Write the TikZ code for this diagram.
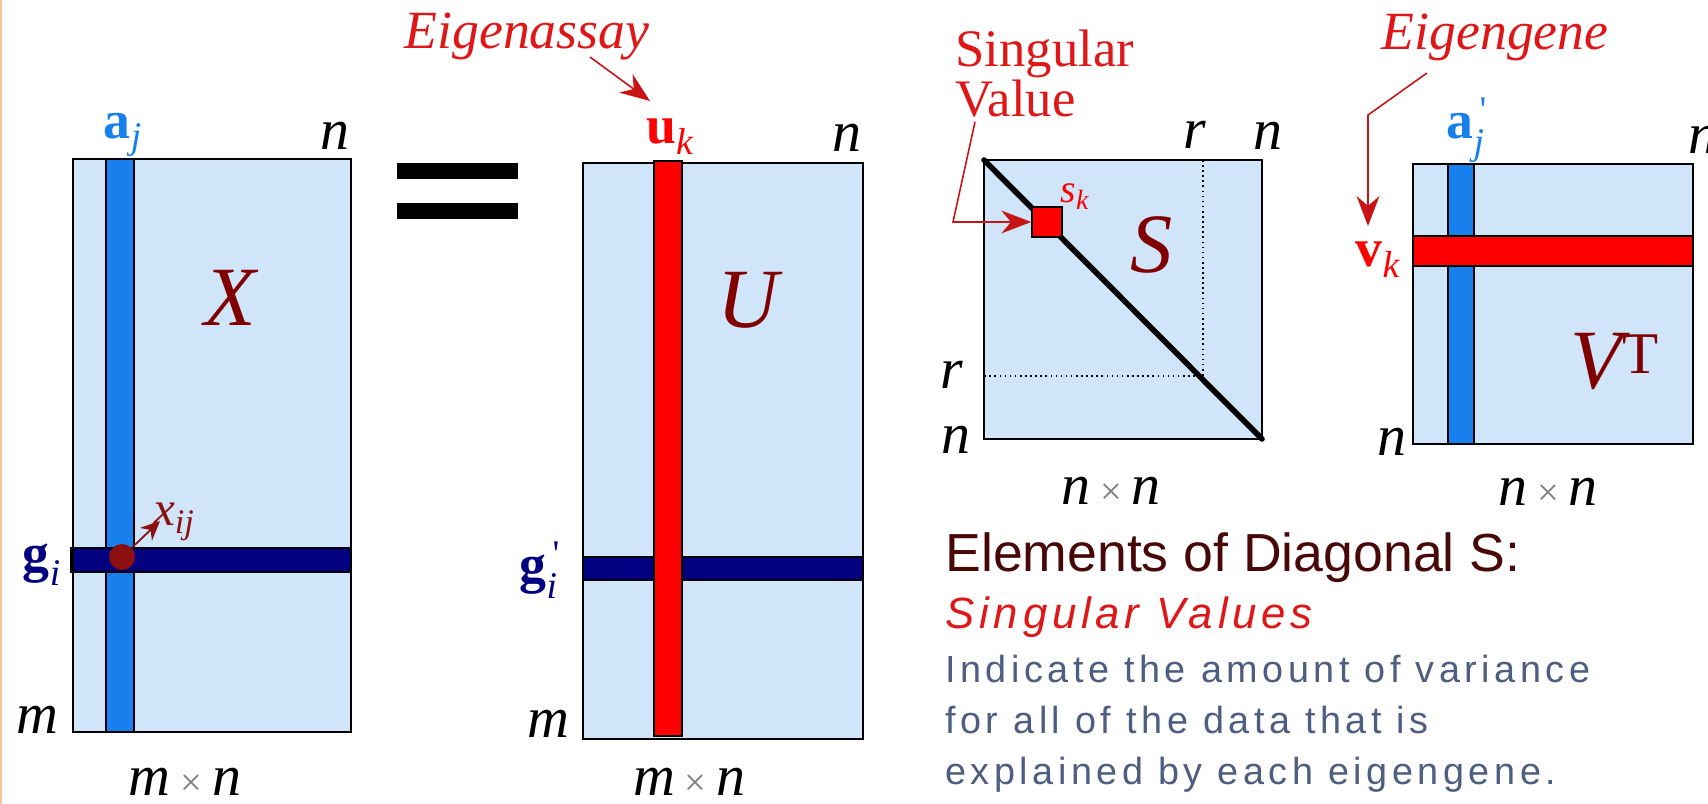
\documentclass[tikz,border=0pt]{standalone}
\usepackage{amsmath}
\usepackage{fontspec}
\setmainfont{Liberation Serif}
\setsansfont{Liberation Sans}
\newfontfamily\notefont[LetterSpace=12]{Liberation Sans}
\newfontfamily\subfont[LetterSpace=11]{Liberation Sans}
\usepackage{xcolor}
\usetikzlibrary{arrows.meta,positioning,calc}

\definecolor{matbg}{RGB}{208,228,250}
\definecolor{colblue}{RGB}{24,128,236}
\definecolor{rownavy}{RGB}{0,0,128}
\definecolor{lblmaroon}{RGB}{128,0,0}
\definecolor{dotmaroon}{RGB}{140,16,16}
\definecolor{notered}{RGB}{222,24,24}
\definecolor{leadred}{RGB}{200,20,20}
\definecolor{notegray}{RGB}{78,94,128}
\definecolor{titlebrown}{RGB}{72,8,8}
\definecolor{edgeorange}{RGB}{246,200,160}
\newcommand{\bytimes}{\,\textcolor{gray}{\fontsize{22}{22}\selectfont\upshape ×}\,}

\begin{document}
\begin{tikzpicture}[
    x=0.2mm, y=-0.2mm,
    matbox/.style={draw=black, line width=1.1pt, fill=matbg},
    colbar/.style={draw=black, line width=0.8pt, fill=#1},
    dimlbl/.style={inner sep=0pt, font=\fontsize{33}{35}\selectfont\itshape},
    biglbl/.style={inner sep=0pt, text=lblmaroon, font=\fontsize{48}{50}\selectfont\itshape},
    veclbl/.style={inner sep=0pt, text=#1, font=\fontsize{30.6}{32}\selectfont},
    notelbl/.style={inner sep=0pt, text=notered, font=\fontsize{30}{27}\selectfont},
    leader/.style={draw=leadred, line width=0.9pt, -{Stealth[length=17pt,width=13pt]}}
]
    \fill[white] (0,0) rectangle (1708,804);
    \useasboundingbox (0,0) rectangle (1708,804);
    \draw[edgeorange, line width=1.4pt] (1,0) -- (1,804);

    % X
    \draw[matbox] (73,159) rectangle (351,732);
    \draw[colbar=colblue] (106,159) rectangle (134,732);
    \draw[colbar=rownavy] (71,548) rectangle (351,572);
    \draw[line width=1.1pt] (73,159) rectangle (351,732);
    \node[circle, fill=dotmaroon, inner sep=0pt, minimum size=5.2mm] (xdot) at (122,557) {};
    \coordinate (xtip) at (160,521);
    \draw[-{Stealth[length=11pt,width=10pt]}, dotmaroon, line width=1pt] (xdot) -- (xtip);
    \node[inner sep=0pt, text=dotmaroon, font=\fontsize{28}{30}\selectfont] (xij) at (174,522) {$\textit{x}_{\textit{ij}}$};
    \node[veclbl=colblue] (aj) at (123,135) {$\textbf{a}_{\textit{j}}$};
    \node[dimlbl] (nX) at (335,136) {n};
    \node[veclbl=rownavy] (gi) at (42,565) {$\textbf{g}_{\textit{i}}$};
    \node[dimlbl] (mX) at (37,720) {m};
    \node[biglbl] (X) at (230,298) {X};
    \node[dimlbl] (mnX) at (185,782) {m\bytimes n};

    % equals
    \fill (397,163) rectangle (518,179);
    \fill (397,203) rectangle (518,219);

    % U
    \draw[matbox] (583,163) rectangle (863,739);
    \draw[colbar=rownavy] (583,557) rectangle (863,580);
    \draw[line width=1.1pt] (583,163) rectangle (863,739);
    \draw[colbar=red] (654,161) rectangle (682,736);
    \node[veclbl=red] (uk) at (670,137) {$\textbf{u}_{\textit{k}}$};
    \node[dimlbl] (nU) at (847,138) {n};
    \node[veclbl=rownavy] (gpi) at (540,570) {$\textbf{g}^{\,\textup{\textquotesingle}}_{\textit{i}}$};
    \node[dimlbl] (mU) at (548,724) {m};
    \node[biglbl] (U) at (748,300) {U};
    \node[dimlbl] (mnU) at (689,782) {m\bytimes n};
    \node[notelbl, font=\fontsize{30.6}{32}\selectfont\itshape] (assay) at (527,37) {Eigenassay};
    \coordinate (assaytail) at (590,57);
    \coordinate (assayhead) at (650,101);
    \draw[leader] (assaytail) -- (assayhead);

    % S
    \draw[matbox] (984,160) rectangle (1262,439);
    \draw[dotted, line width=0.9pt] (1203,160) -- (1203,376) -- (984,376);
    \draw[line width=3.2pt, line cap=round] (984,160) -- (1262,439);
    \draw[line width=1.1pt] (984,160) rectangle (1262,439);
    \node[draw=black, fill=red, line width=0.9pt, minimum size=6mm, inner sep=0pt] (sk) at (1047,222) {};
    \node[inner sep=0pt, text=red, font=\fontsize{22.7}{24}\selectfont] (sklbl) at (1075,197) {$\textit{s}_{\textit{k}}$};
    \node[biglbl] (S) at (1152,245) {S};
    \node[dimlbl] (rS) at (1195,135) {r};
    \node[dimlbl] (nS) at (1268,136) {n};
    \node[dimlbl] (rSl) at (952,375) {r};
    \node[dimlbl] (nSl) at (956,440) {n};
    \node[dimlbl] (nnS) at (1111,491) {n\bytimes n};
    \node[notelbl, align=left, anchor=north west] (sval) at (955,30) {Singular\\Value};
    \coordinate (svbend) at (953,222);
    \draw[leader] ($(sval.south west)+(20,4)$) -- (svbend) -- (sk.west);

    % V^T
    \draw[matbox] (1413,164) rectangle (1693,444);
    \draw[colbar=colblue] (1448,164) rectangle (1474,444);
    \draw[colbar=red] (1413,236) rectangle (1693,266);
    \draw[line width=1.1pt] (1413,164) rectangle (1693,444);
    \node[veclbl=colblue] (apj) at (1467,130) {$\textbf{a}^{\,\textup{\textquotesingle}}_{\textit{j}}$};
    \node[dimlbl] (nV) at (1703,140) {n};
    \node[veclbl=red] (vk) at (1378,260) {$\textbf{v}_{\textit{k}}$};
    \node[dimlbl] (nVl) at (1392,442) {n};
    \node[biglbl] (VT) at (1615,362) {V\textsuperscript{\textup{T}}};
    \node[dimlbl] (nnV) at (1548,492) {n\bytimes n};
    \node[notelbl, font=\fontsize{30.6}{32}\selectfont\itshape] (gene) at (1495,37) {Eigengene};
    \coordinate (genetail) at (1427,73);
    \coordinate (genebend) at (1368,115);
    \coordinate (genehead) at (1368,226);
    \draw[leader] (genetail) -- (genebend) -- (genehead);

    % notes
    \node[anchor=base west, inner sep=0pt, text=titlebrown, font=\fontsize{30.5}{32}\sffamily] (elem) at (945,571) {Elements of Diagonal S:};
    \node[anchor=base west, inner sep=0pt, text=notered, font=\fontsize{24.9}{27}\subfont\itshape] (svals) at (945,628) {Singular Values};
    \node[anchor=north west, inner sep=0pt, align=left, text=notegray, font=\fontsize{21.5}{29}\notefont] (expl) at (945,655) {Indicate the amount of variance\\for all of the data that is\\explained by each eigengene.};
\end{tikzpicture}
\end{document}
